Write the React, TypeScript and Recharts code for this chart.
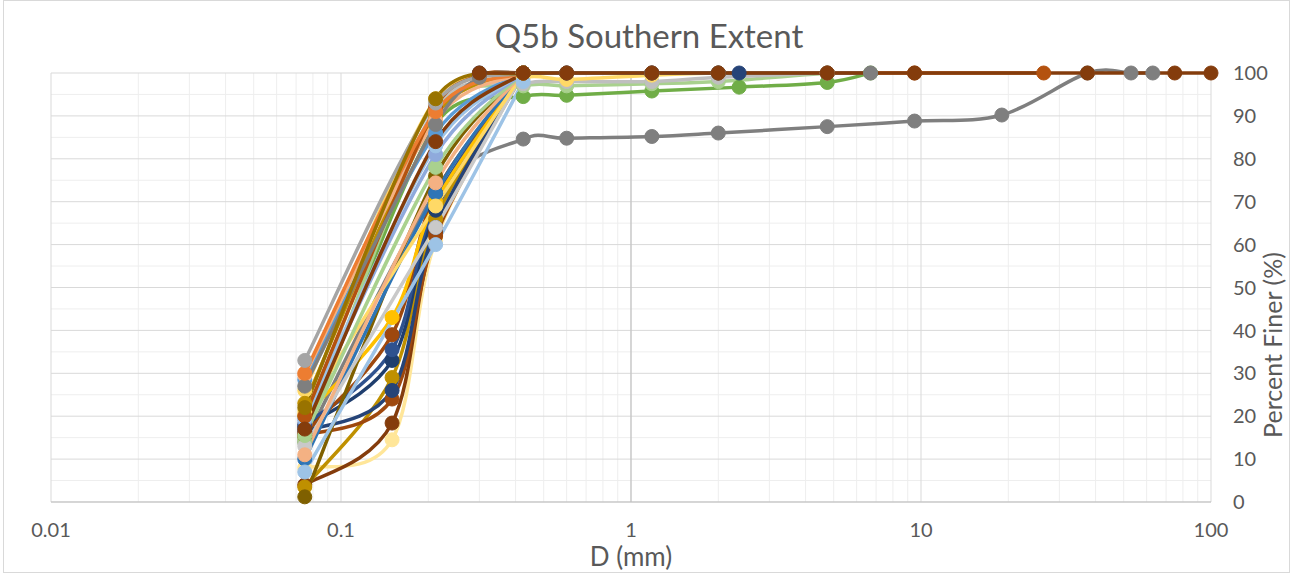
import React from "react";
import { LineChart, Line, XAxis, YAxis, CartesianGrid } from "recharts";

// sieve sizes (mm) - one column per size, null = not measured
const sieve = [0.075, 0.15, 0.212, 0.3, 0.425, 0.6, 1.18, 2, 2.36, 4.75, 6.7, 9.5, 19, 26.5, 37.5, 53, 63, 75, 100];
const _ = null;

const grey85 = [14, _, 72, _, 84.6, 84.8, 85.2, 86, _, 87.5, _, 88.8, 90.2, _, 100, 100, 100, _, _];
const green = [15, _, 88, _, 94.5, 94.8, 95.8, _, 96.7, 97.8, 100, _, _, _, _, _, _, _, _];
const lightGreen = [14, _, 91, _, 97, 97, 97.5, 98, _, 100, _, _, _, _, _, _, _, _, _];
const silver = [18, _, 92, _, 97.5, 98, 98, 99, _, 100, _, _, _, _, _, _, _, _, _];
const butter = [26, _, 94, _, 99, 98.5, 99.5, 100, _, _, _, _, _, _, _, _, _, _, _];
const lightYellowLow = [8, 14.5, 61, _, 100, _, _, _, _, _, _, _, _, _, _, _, _, _, _];
const brownLow = [4, 18.4, 63, _, 100, _, _, _, _, _, _, _, _, _, _, _, _, _, _];
const goldLow = [3.5, 29, 66, _, 100, _, _, _, _, _, _, _, _, _, _, _, _, _, _];
const rustLow = [15.5, 24, 62, _, 100, _, _, _, _, _, _, _, _, _, _, _, _, _, _];
const navyLow = [16.5, 26, 64, _, 100, _, _, _, _, _, _, _, _, _, _, _, _, _, _];
const navyMid = [17.5, 33, 68, _, 100, _, _, _, _, _, _, _, _, _, _, _, _, _, _];
const navyHigh = [18, 35.5, 70, _, 100, _, _, _, _, _, _, _, _, _, _, _, _, _, _];
const rustMid = [16, 39, 72, _, 100, _, _, _, _, _, _, _, _, _, _, _, _, _, _];
const yellowMid = [20, 43, 70, _, 100, _, _, _, _, _, _, _, _, _, _, _, _, _, _];
const darkOlive = [1.2, _, 76, _, 100, _, _, _, _, _, _, _, _, _, _, _, _, _, _];
const blueLow = [10, _, 72, _, 100, _, _, _, _, _, _, _, _, _, _, _, _, _, _];
const skyLow = [7, _, 60, _, 98, _, _, _, _, _, _, _, _, _, _, _, _, _, _];
const paleGrey = [13, _, 64, _, 100, _, _, _, _, _, _, _, _, _, _, _, _, _, _];
const butterLow = [21, _, 69, _, 100, _, _, _, _, _, _, _, _, _, _, _, _, _, _];
const peachLow = [11, _, 74.4, _, 100, _, _, _, _, _, _, _, _, _, _, _, _, _, _];
const mint = [15.5, _, 78, _, 100, _, _, _, _, _, _, _, _, _, _, _, _, _, _];
const periwinkle = [19, _, 81, _, 100, _, _, _, _, _, _, _, _, _, _, _, _, _, _];
const blueHigh = [28.5, _, 86, _, 100, _, _, _, _, _, _, _, _, _, _, _, _, _, _];
const skyHigh = [19.5, _, 83, _, 100, _, _, _, _, _, _, _, _, _, _, _, _, _, _];
const goldHigh = [23, _, 90, _, 100, _, _, _, _, _, _, _, _, _, _, _, _, _, _];
const peachHigh = [29.5, _, 89, _, 100, _, _, _, _, _, _, _, _, _, _, _, _, _, _];
const rustTop = [20, _, 92, 99.5, 100, 100, 100, 100, _, 100, _, 100, _, 100, _, _, _, _, _];
const navyTop = [_, _, _, 100, 100, 100, 100, 100, 100, _, _, _, _, _, _, _, _, _, _];
const grey88 = [27, _, 88, 99, 100, 100, 100, 100, _, 100, 100, _, _, _, _, _, _, _, _];
const brownMid = [17, _, 84, _, 100, _, _, _, _, _, _, _, _, _, _, _, _, _, _];
const orange = [30, _, 91, _, 100, _, _, _, _, _, _, _, _, _, _, _, _, _, _];
const greyTop = [33, _, 93, _, 100, _, _, _, _, _, _, _, _, _, _, _, _, _, _];
const olive = [22, _, 94, _, 100, _, _, _, _, _, _, _, _, _, _, _, _, _, _];
const brownTop = [_, _, _, 100, 100, 100, 100, 100, _, 100, _, 100, _, _, 100, _, _, 100, 100];

const series = [
  { name: "grey85", values: grey85, color: "#7F7F7F" },
  { name: "green", values: green, color: "#70AD47" },
  { name: "lightGreen", values: lightGreen, color: "#A9D18E" },
  { name: "silver", values: silver, color: "#BFBFBF" },
  { name: "butter", values: butter, color: "#FFD966" },
  { name: "lightYellowLow", values: lightYellowLow, color: "#FFE699" },
  { name: "brownLow", values: brownLow, color: "#843C0C" },
  { name: "goldLow", values: goldLow, color: "#BF9000" },
  { name: "rustLow", values: rustLow, color: "#9E480E" },
  { name: "navyLow", values: navyLow, color: "#264478" },
  { name: "navyMid", values: navyMid, color: "#1F3E6E" },
  { name: "navyHigh", values: navyHigh, color: "#2F528F" },
  { name: "rustMid", values: rustMid, color: "#9E480E" },
  { name: "yellowMid", values: yellowMid, color: "#FFC000" },
  { name: "darkOlive", values: darkOlive, color: "#7F6000" },
  { name: "blueLow", values: blueLow, color: "#2E75B6" },
  { name: "skyLow", values: skyLow, color: "#9DC3E6" },
  { name: "paleGrey", values: paleGrey, color: "#C9C9C9" },
  { name: "butterLow", values: butterLow, color: "#FFD966" },
  { name: "peachLow", values: peachLow, color: "#F4B183" },
  { name: "mint", values: mint, color: "#A9D18E" },
  { name: "periwinkle", values: periwinkle, color: "#8FAADC" },
  { name: "blueHigh", values: blueHigh, color: "#5B9BD5" },
  { name: "skyHigh", values: skyHigh, color: "#9DC3E6" },
  { name: "goldHigh", values: goldHigh, color: "#BF9000" },
  { name: "peachHigh", values: peachHigh, color: "#F4B183" },
  { name: "rustTop", values: rustTop, color: "#B4520F" },
  { name: "navyTop", values: navyTop, color: "#264478" },
  { name: "grey88", values: grey88, color: "#7F7F7F" },
  { name: "brownMid", values: brownMid, color: "#843C0C" },
  { name: "orange", values: orange, color: "#ED7D31" },
  { name: "greyTop", values: greyTop, color: "#A5A5A5" },
  { name: "olive", values: olive, color: "#997300" },
  { name: "brownTop", values: brownTop, color: "#843C0C" },
];

const xTicks = [0.01, 0.1, 1, 10, 100];
const yTicks = [0, 10, 20, 30, 40, 50, 60, 70, 80, 90, 100];
const yMinor = [5, 15, 25, 35, 45, 55, 65, 75, 85, 95];
const xMinor = [0.01, 0.1, 1, 10].flatMap((d) => [2, 3, 4, 5, 6, 7, 8, 9].map((k) => +(k * d).toPrecision(3)));

// Excel style smoothing: bezier with 1/6 tangents, clamped to half the segment length
const excelSmooth = (context: any) => {
  let pts: number[][] = [];
  const dist = (a: number[], b: number[]) => Math.hypot(b[0] - a[0], b[1] - a[1]);
  return {
    areaStart() {},
    areaEnd() {},
    lineStart() {
      pts = [];
    },
    point(x: number, y: number) {
      pts.push([+x, +y]);
    },
    lineEnd() {
      const n = pts.length;
      if (!n) return;
      context.moveTo(pts[0][0], pts[0][1]);
      for (let i = 0; i < n - 1; i++) {
        const p0 = pts[i - 1] || pts[i];
        const p1 = pts[i];
        const p2 = pts[i + 1];
        const p3 = pts[i + 2] || p2;
        const d02 = dist(p0, p2);
        const d12 = dist(p1, p2);
        const d13 = dist(p1, p3);
        const f1 = d02 / 6 < d12 / 2 ? 1 / 6 : d12 / (2 * d02);
        const f2 = d13 / 6 < d12 / 2 ? 1 / 6 : d12 / (2 * d13);
        context.bezierCurveTo(
          p1[0] + (p2[0] - p0[0]) * f1,
          p1[1] + (p2[1] - p0[1]) * f1,
          p2[0] - (p3[0] - p1[0]) * f2,
          p2[1] - (p3[1] - p1[1]) * f2,
          p2[0],
          p2[1]
        );
      }
    },
  };
};

const tickStyle = { fill: "#595959", fontSize: 20, fontFamily: "Lato, sans-serif" };

export default function App() {
  return (
    <div style={{ position: "absolute", left: 0, top: 0, width: 1292, height: 574, background: "#fff", fontFamily: "Lato, sans-serif" }}>
      <div style={{ position: "absolute", left: 3, top: 0, width: 1287, height: 573, border: "1px solid #d9d9d9", boxSizing: "border-box" }} />
      <div style={{ position: "absolute", left: 0, top: 0 }}>
        <LineChart width={1292} height={574} margin={{ top: 73, right: 0, bottom: 0, left: 51 }}>
          <CartesianGrid stroke="#eeeeee" verticalValues={xMinor} horizontalValues={yMinor} />
          <CartesianGrid stroke="#d9d9d9" verticalValues={xTicks} horizontalValues={yTicks} />
          <CartesianGrid stroke="#bfbfbf" verticalValues={[1]} horizontalValues={[0]} />
          <XAxis
            dataKey="x"
            type="number"
            scale="log"
            domain={[0.01, 100]}
            ticks={xTicks}
            interval={0}
            height={72}
            axisLine={false}
            tickLine={false}
            tickMargin={15}
            tick={tickStyle}
            tickFormatter={(v: number) => String(v)}
            label={{
              content: (props: any) => {
                const vb = props.viewBox;
                return (
                  <text x={vb.x + vb.width / 2} y={vb.y + 64} textAnchor="middle" fill="#595959" fontSize={26} fontFamily="Lato, sans-serif">
                    D (mm)
                  </text>
                );
              },
            }}
          />
          <YAxis
            dataKey="y"
            type="number"
            orientation="right"
            domain={[0, 100]}
            ticks={yTicks}
            interval={0}
            width={81}
            axisLine={false}
            tickLine={false}
            tickMargin={16}
            tick={tickStyle}
            label={{
              content: (props: any) => {
                const vb = props.viewBox;
                const cx = vb.x + 61;
                const cy = vb.y + 272;
                return (
                  <text x={cx} y={cy} transform={`rotate(-90 ${cx} ${cy})`} textAnchor="middle" dominantBaseline="central" fill="#595959" fontSize={25} fontFamily="Lato, sans-serif">
                    Percent Finer (%)
                  </text>
                );
              },
            }}
          />
          {series.map((s) => (
            <Line
              key={s.name}
              name={s.name}
              data={sieve.map((x, i) => ({ x, y: s.values[i] })).filter((p) => p.y !== null)}
              dataKey="y"
              type={excelSmooth as any}
              stroke={s.color}
              strokeWidth={3.5}
              dot={{ r: 7, fill: s.color, stroke: s.color, strokeWidth: 1 }}
              activeDot={false}
              isAnimationActive={false}
            />
          ))}
        </LineChart>
      </div>
      <div style={{ position: "absolute", left: 3, top: 12, width: 1292, textAlign: "center", fontSize: 33, lineHeight: "46px", color: "#595959" }}>
        Q5b Southern Extent
      </div>
    </div>
  );
}
